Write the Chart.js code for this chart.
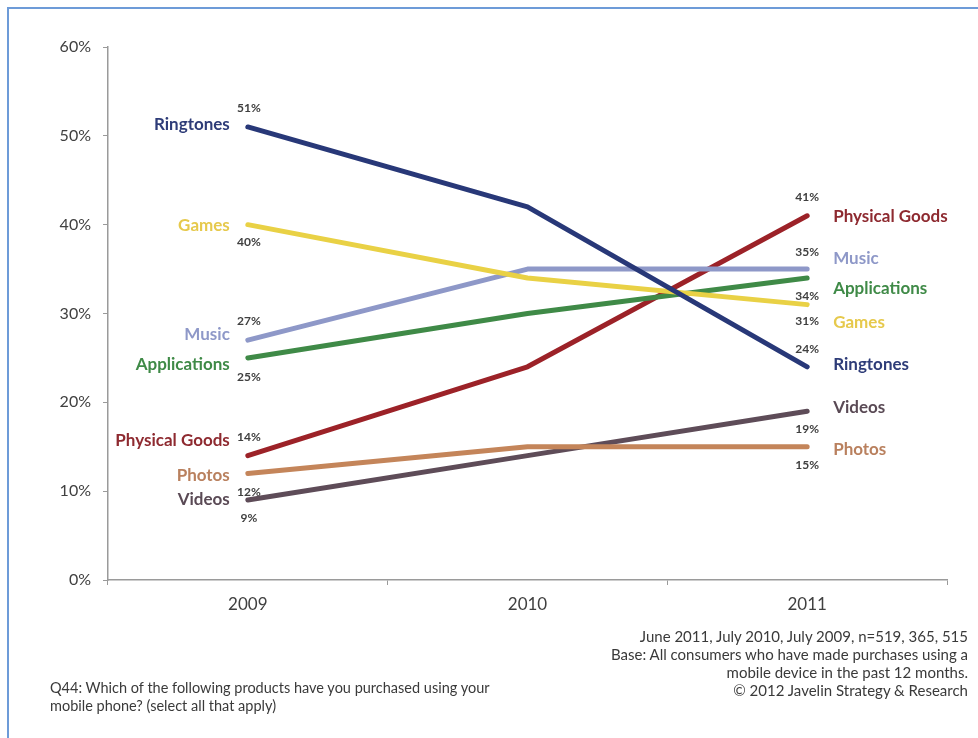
<!DOCTYPE html>
<html>
<head>
<meta charset="utf-8">
<script src="https://cdn.jsdelivr.net/npm/chart.js@4"></script>
<style>
  body { margin: 0; background: #fff; }
  #wrap { position: relative; width: 978px; height: 738px; overflow: hidden; }
  #frame { position: absolute; left: 7px; top: 7px; width: 990px; height: 760px;
           border-top: 2px solid #6d9bd8; border-left: 2px solid #6d9bd8; }
  canvas { position: absolute; left: 0; top: 0; }
  .note { position: absolute; font-family: Lato, "Open Sans", sans-serif;
          color: #3a3a3a; line-height: 18px; white-space: nowrap; }
  #source { right: 10px; top: 627px; text-align: right; font-size: 15px; }
  #question { left: 50px; top: 679px; font-size: 14.5px; }
</style>
</head>
<body>
<div id="wrap">
  <div id="frame"></div>
  <canvas id="chart" width="978" height="738"></canvas>
  <div class="note" id="source">June 2011, July 2010, July 2009, n=519, 365, 515<br>Base: All consumers who have made purchases using a<br>mobile device in the past 12 months.<br>© 2012 Javelin Strategy &amp; Research</div>
  <div class="note" id="question">Q44: Which of the following products have you purchased using your<br>mobile phone? (select all that apply)</div>
</div>
<script>
// data
const years = ["2009", "2010", "2011"];
const yTicks = [0, 10, 20, 30, 40, 50, 60];
const seriesNames = ["Ringtones", "Games", "Music", "Applications", "Physical Goods", "Photos", "Videos"];
const ringtones = [51, 42, 24];
const games = [40, 34, 31];
const music = [27, 35, 35];
const applications = [25, 30, 34];
const physicalGoods = [14, 24, 41];
const photos = [12, 15, 15];
const videos = [9, 14, 19];

const seriesValues = [ringtones, games, music, applications, physicalGoods, photos, videos];
const lineColors = ["#283878", "#e9d145", "#8e98c8", "#3f8a47", "#9c2228", "#c4855a", "#5e4c58"];
const textColors = ["#2e3c78", "#e6c94c", "#8e98c8", "#3f8a47", "#8e2a30", "#b9805e", "#5a4a55"];

// label offsets in px from the end points: [startName, startPct, endPct, endName]
const labelOffsets = [
  [-2, -19, -18, -2],
  [1, 17, 17, 18],
  [-6, -19, -17, -11],
  [7, 19, 18, 11],
  [-15, -19, -19, 1],
  [2, 19, 18, 3],
  [-1, 18, 18, -4]
];

const fontFamily = "Lato, 'Open Sans', sans-serif";

const endLabels = {
  id: "endLabels",
  afterDatasetsDraw(chart) {
    const c = chart.ctx;
    const xs = chart.scales.x, ys = chart.scales.y;
    const last = years.length - 1;
    c.save();
    c.textBaseline = "middle";
    seriesValues.forEach((vals, i) => {
      const off = labelOffsets[i];
      const x0 = xs.getPixelForValue(0), y0 = ys.getPixelForValue(vals[0]);
      const x1 = xs.getPixelForValue(last), y1 = ys.getPixelForValue(vals[last]);

      c.font = "bold 17px " + fontFamily;
      c.fillStyle = textColors[i];
      c.textAlign = "right";
      c.fillText(seriesNames[i], x0 - 18, y0 + off[0]);
      c.textAlign = "left";
      c.fillText(seriesNames[i], x1 + 26, y1 + off[3]);

      c.font = "bold 12px " + fontFamily;
      c.fillStyle = "#404040";
      c.textAlign = "center";
      c.fillText(vals[0] + "%", x0 + 1, y0 + off[1]);
      c.fillText(vals[last] + "%", x1, y1 + off[2]);
    });
    c.restore();
  }
};

const ctx = document.getElementById("chart").getContext("2d");
const chart = new Chart(ctx, {
  type: "line",
  data: {
    labels: years,
    datasets: seriesNames.map((name, i) => ({
      label: name,
      data: seriesValues[i],
      borderColor: lineColors[i],
      backgroundColor: lineColors[i],
      borderWidth: 5,
      borderCapStyle: "round",
      borderJoinStyle: "round",
      pointRadius: 0,
      tension: 0
    }))
  },
  options: {
    responsive: false,
    animation: false,
    layout: { padding: { left: 0, top: 47, right: 31, bottom: 118 } },
    plugins: { legend: { display: false }, tooltip: { enabled: false } },
    scales: {
      x: {
        offset: true,
        grid: { offset: true, drawOnChartArea: false, color: "#9a9a9a", tickLength: 5 },
        border: { color: "#9a9a9a", width: 1.5 },
        ticks: { color: "#404040", font: { family: fontFamily, size: 17 }, padding: 9 },
        afterFit(scale) { scale.height = 40; }
      },
      y: {
        min: 0,
        max: 60,
        afterBuildTicks(scale) { scale.ticks = yTicks.map(v => ({ value: v })); },
        grid: { drawOnChartArea: false, color: "#9a9a9a", tickLength: 5 },
        border: { color: "#9a9a9a", width: 1.5 },
        ticks: {
          color: "#404040",
          font: { family: fontFamily, size: 16 },
          padding: 12,
          callback: v => v + "%"
        },
        afterFit(scale) { scale.width = 108; }
      }
    }
  },
  plugins: [endLabels]
});
</script>
</body>
</html>
